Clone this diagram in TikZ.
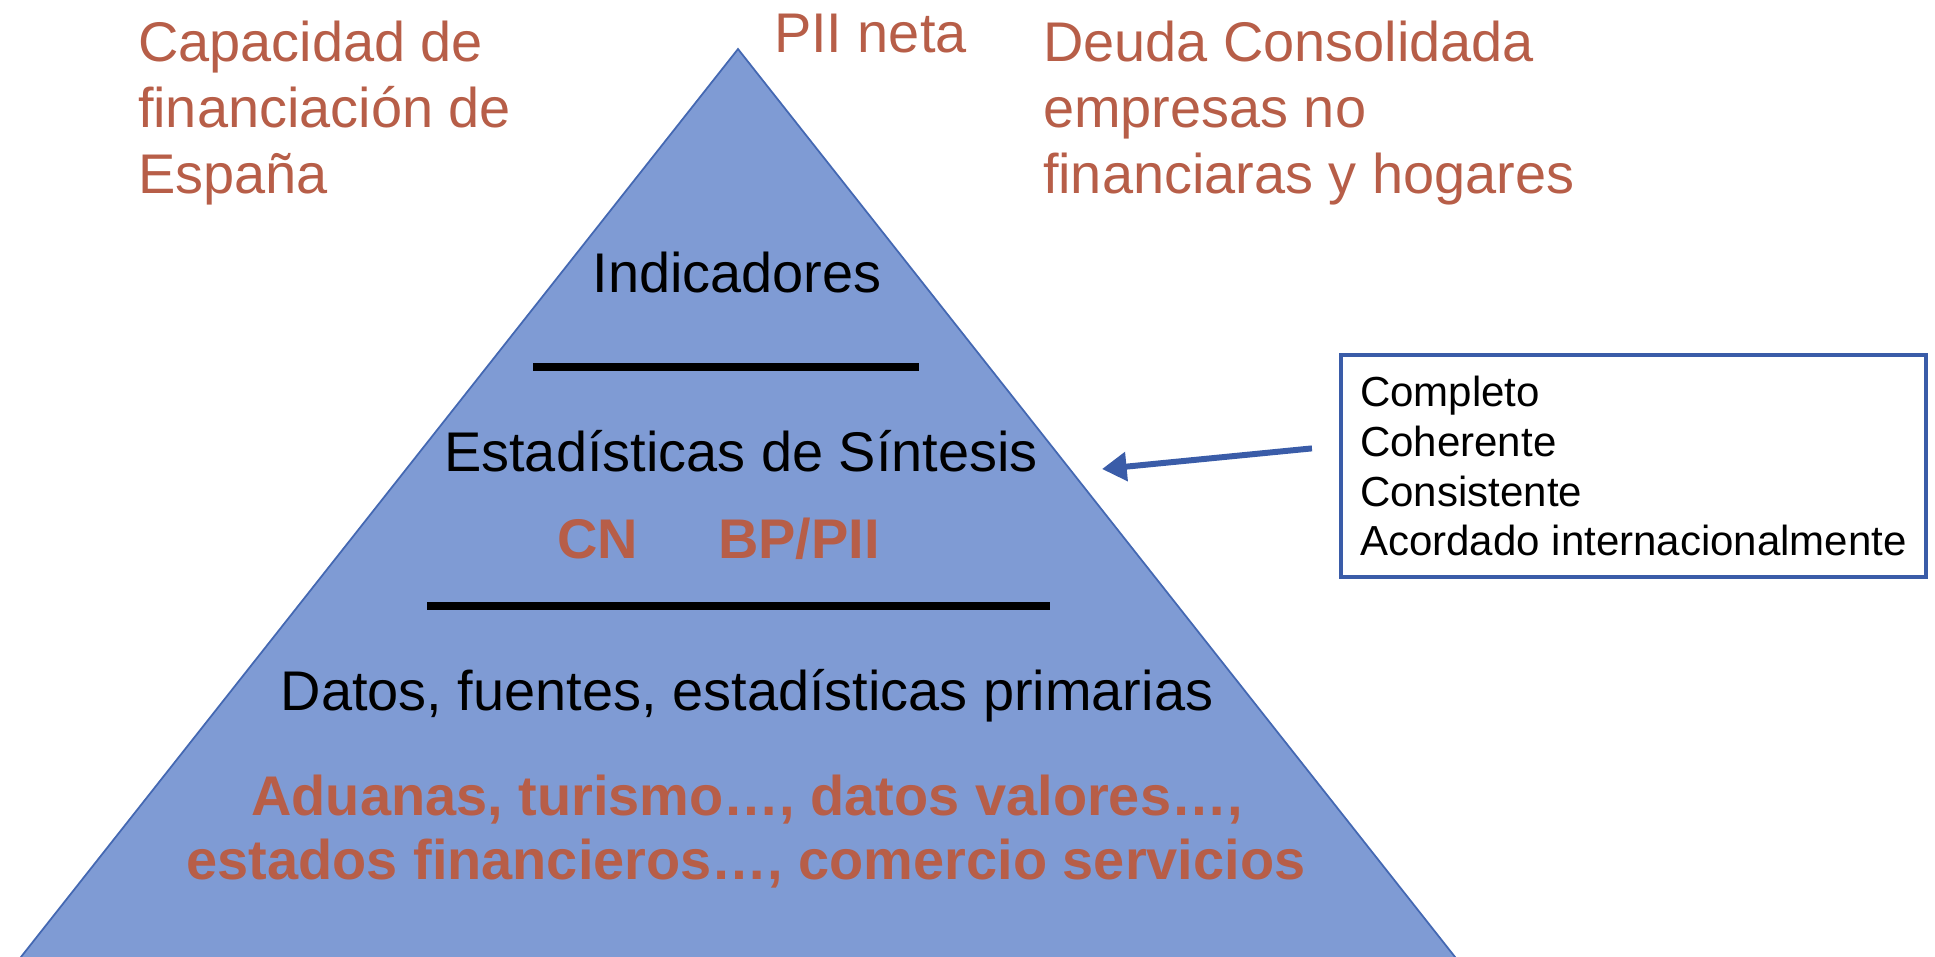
\documentclass[tikz,border=0pt]{standalone}
\usepackage{fontspec}
\setmainfont{Liberation Sans}
\usetikzlibrary{arrows.meta}
\definecolor{pyrfill}{RGB}{127,155,212}
\definecolor{pyredge}{RGB}{68,104,178}
\definecolor{hlred}{RGB}{183,94,72}
\definecolor{boxblue}{RGB}{58,92,168}
\newcommand{\bigtxt}{\fontsize{15.9}{18.8}\selectfont}
\newcommand{\smalltxt}{\fontsize{11.95}{14.2}\selectfont}

\begin{document}
\begin{tikzpicture}[x=0.01cm,y=-0.01cm,inner sep=0pt,outer sep=0pt,
lvltext/.style={anchor=base,font=\bigtxt},
hltext/.style={text=hlred,font=\bigtxt},
hlbold/.style={text=hlred,font=\bigtxt\bfseries},
divider/.style={line width=2.3pt,black},
listbox/.style={draw=boxblue,line width=1.3pt,rectangle,align=left,minimum width=5.85cm,minimum height=2.22cm,font=\smalltxt}]

\useasboundingbox (0,0) rectangle (1935,956);
\begin{scope}
\clip (0,0) rectangle (1935,956);
\draw[pyredge,fill=pyrfill,line width=0.5pt] (738,49) -- (1489,1000) -- (-13,1000) -- cycle;
\end{scope}

\draw (138,21) node[hltext,anchor=north west,align=left] (capac) {Capacidad de\\financiación de\\España};
\draw (774,52) node[hltext,anchor=base west] (pii) {PII neta};
\draw (1043,21) node[hltext,anchor=north west,align=left] (deuda) {Deuda Consolidada\\empresas no\\financiaras y hogares};

\draw (737,292) node[lvltext] (indic) {Indicadores};
\draw[divider] (533,367) -- (919,367);
\draw (741,471) node[lvltext] (sintesis) {Estadísticas de Síntesis};
\draw (557,558) node[hlbold,anchor=base west] (cn) {CN};
\draw (718,558) node[hlbold,anchor=base west] (bppii) {BP/PII};
\draw[divider] (427,606) -- (1050,606);
\draw (747,710) node[lvltext] (datos) {Datos, fuentes, estadísticas primarias};
\draw (747,815) node[hlbold,anchor=base] (fuentes1) {Aduanas, turismo…, datos valores…,};
\draw (746,879) node[hlbold,anchor=base] (fuentes2) {estados financieros…, comercio servicios};

\draw (1633.5,466) node[listbox] (props) {Completo\\Coherente\\Consistente\\Acordado internacionalmente};
\coordinate (arrtip) at (1102,469);
\draw[boxblue,line width=1.7pt,-{Triangle[length=7pt,width=8pt]},shorten <=0.29cm] (props.176) -- (arrtip);
\end{tikzpicture}
\end{document}
